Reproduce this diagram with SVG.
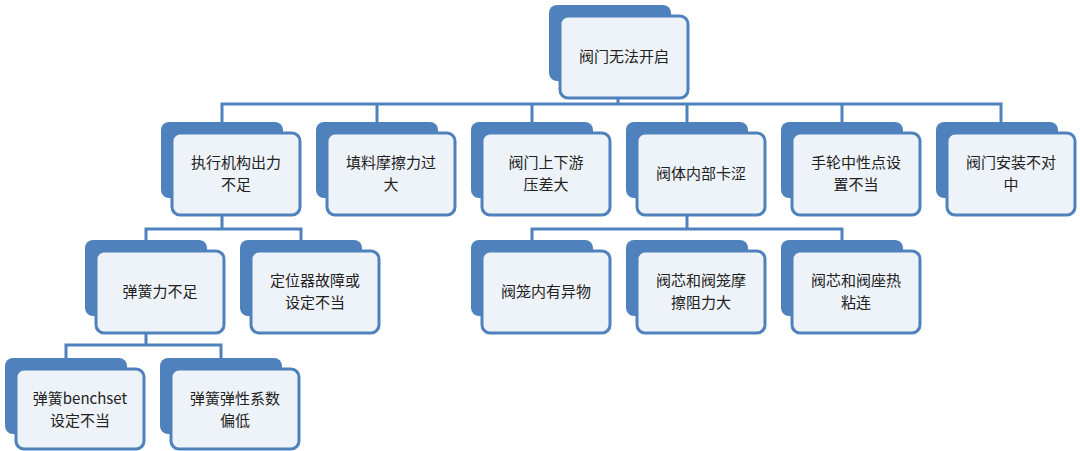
<svg xmlns="http://www.w3.org/2000/svg" width="1080" height="451" viewBox="0 0 1080 451">
<defs><style>
.b{fill:#4f81bd}
.f{fill:#eef2f9;stroke:#4f81bd;stroke-width:3}
text{font-family:"Noto Sans CJK SC","Liberation Sans",sans-serif;font-size:15px;fill:#222;text-anchor:middle}
.c{stroke:#4f81bd;stroke-width:3;fill:none}
</style></defs>
<rect width="1080" height="451" fill="#fff"/>
<g id="connectors" class="c">
<path d="M618 99V104M222 122V104H1001V122M377 104V122M532 104V122M687 104V122M842 104V122"/>
<path d="M222 215V229M146 240V229H301V240"/>
<path d="M687 215V229M532 240V229H842V240"/>
<path d="M146 333V345M66 358V345H221V358"/>
</g>
<g id="root"><rect class="b" x="549" y="5" width="122" height="76" rx="8"/><rect class="f" x="560" y="16" width="128" height="82" rx="8"/><text x="624" y="62">阀门无法开启</text></g>
<g id="n1"><rect class="b" x="161" y="122" width="122" height="76" rx="8"/><rect class="f" x="172" y="133" width="128" height="82" rx="8"/><text x="236" y="168">执行机构出力</text><text x="236" y="190">不足</text></g>
<g id="n2"><rect class="b" x="316" y="122" width="122" height="76" rx="8"/><rect class="f" x="327" y="133" width="128" height="82" rx="8"/><text x="391" y="168">填料摩擦力过</text><text x="391" y="190">大</text></g>
<g id="n3"><rect class="b" x="471" y="122" width="122" height="76" rx="8"/><rect class="f" x="482" y="133" width="128" height="82" rx="8"/><text x="546" y="168">阀门上下游</text><text x="546" y="190">压差大</text></g>
<g id="n4"><rect class="b" x="626" y="122" width="122" height="76" rx="8"/><rect class="f" x="637" y="133" width="128" height="82" rx="8"/><text x="701" y="179">阀体内部卡涩</text></g>
<g id="n5"><rect class="b" x="781" y="122" width="122" height="76" rx="8"/><rect class="f" x="792" y="133" width="128" height="82" rx="8"/><text x="856" y="168">手轮中性点设</text><text x="856" y="190">置不当</text></g>
<g id="n6"><rect class="b" x="936" y="122" width="122" height="76" rx="8"/><rect class="f" x="947" y="133" width="128" height="82" rx="8"/><text x="1011" y="168">阀门安装不对</text><text x="1011" y="190">中</text></g>
<g id="n11"><rect class="b" x="85" y="240" width="122" height="76" rx="8"/><rect class="f" x="96" y="251" width="128" height="82" rx="8"/><text x="160" y="297">弹簧力不足</text></g>
<g id="n12"><rect class="b" x="240" y="240" width="122" height="76" rx="8"/><rect class="f" x="251" y="251" width="128" height="82" rx="8"/><text x="315" y="286">定位器故障或</text><text x="315" y="308">设定不当</text></g>
<g id="n41"><rect class="b" x="471" y="240" width="122" height="76" rx="8"/><rect class="f" x="482" y="251" width="128" height="82" rx="8"/><text x="546" y="297">阀笼内有异物</text></g>
<g id="n42"><rect class="b" x="626" y="240" width="122" height="76" rx="8"/><rect class="f" x="637" y="251" width="128" height="82" rx="8"/><text x="701" y="286">阀芯和阀笼摩</text><text x="701" y="308">擦阻力大</text></g>
<g id="n43"><rect class="b" x="781" y="240" width="122" height="76" rx="8"/><rect class="f" x="792" y="251" width="128" height="82" rx="8"/><text x="856" y="286">阀芯和阀座热</text><text x="856" y="308">粘连</text></g>
<g id="n111"><rect class="b" x="5" y="358" width="122" height="76" rx="8"/><rect class="f" x="16" y="369" width="128" height="80" rx="8"/><text x="80" y="404">弹簧benchset</text><text x="80" y="426">设定不当</text></g>
<g id="n112"><rect class="b" x="160" y="358" width="122" height="76" rx="8"/><rect class="f" x="171" y="369" width="128" height="80" rx="8"/><text x="235" y="404">弹簧弹性系数</text><text x="235" y="426">偏低</text></g>
</svg>
